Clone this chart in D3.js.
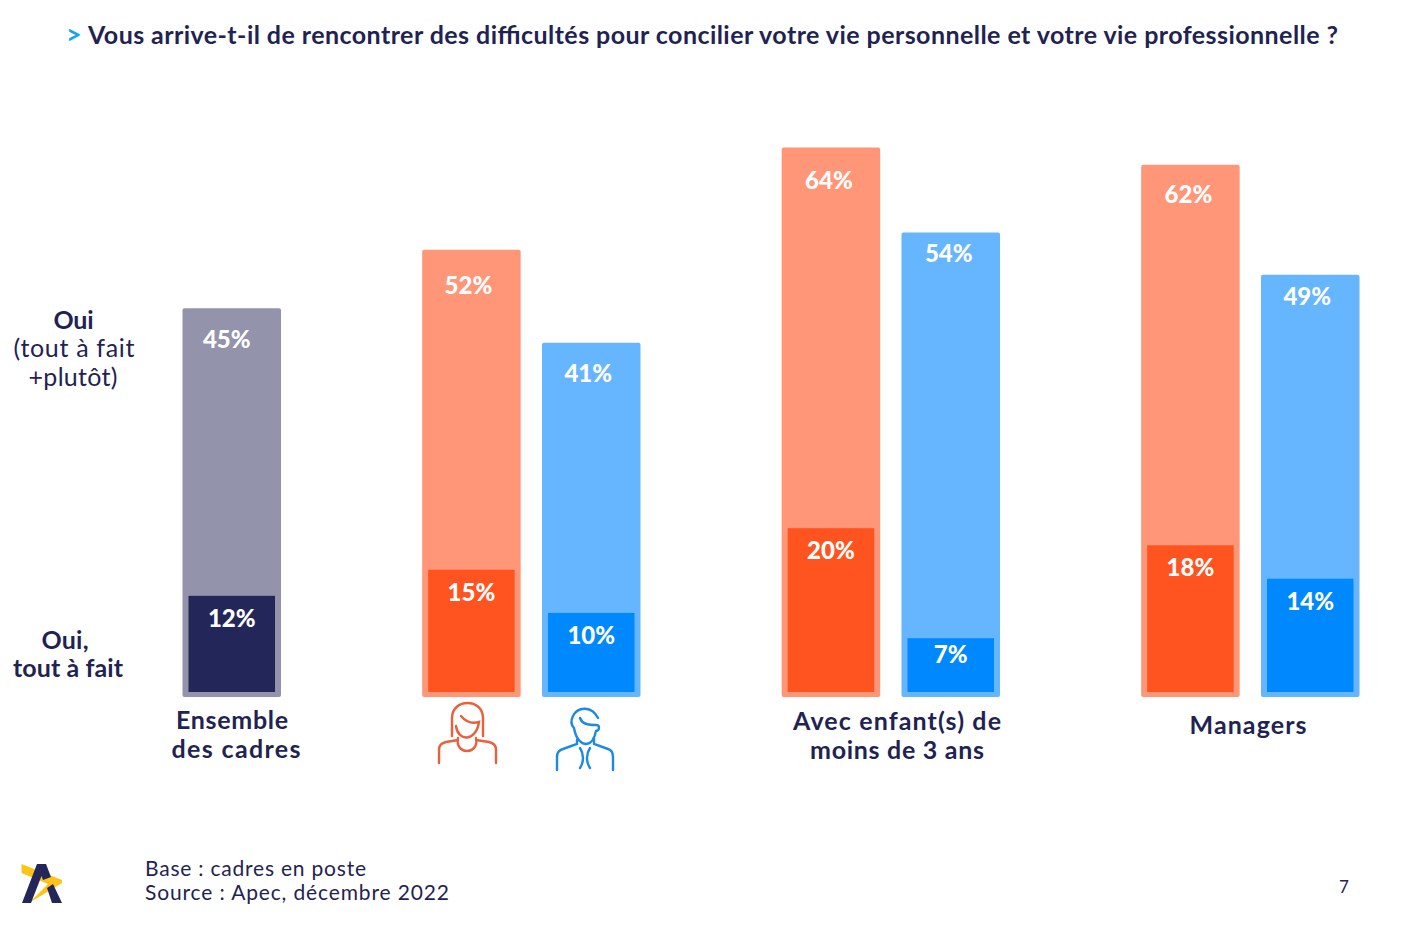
<!DOCTYPE html>
<html lang="fr">
<head>
<meta charset="utf-8">
<script src="https://cdn.jsdelivr.net/npm/d3@7"></script>
<style>
    html, body { margin: 0; padding: 0; background: #fff; }
    svg { display: block; }
    text { font-family: "Lato", "Open Sans", sans-serif; fill: #1f2354; }
</style>
</head>
<body>
<div id="chart"></div>
<script>
// spacer slots keep the gaps between the groups
const slots = ["Ensemble", "gap1", "Femmes", "Hommes", "gap2", "Enfants F", "Enfants H", "gap3", "Managers F", "Managers H"];
const barNames = ["Ensemble", "Femmes", "Hommes", "Enfants F", "Enfants H", "Managers F", "Managers H"];
// bar heights, the labels round them
const ouiTotal = [45.2, 52, 41.2, 63.9, 54, 61.9, 49.1];
const ouiToutAFait = [11.8, 15, 9.7, 20.1, 6.6, 18, 13.9];
const barKinds = ["all", "f", "h", "f", "h", "f", "h"];

const width = 1419;
const height = 925;

const lightColor = {all: "#9393ab", f: "#ff9678", h: "#66b5ff"};
const darkColor = {all: "#232659", f: "#ff541f", h: "#0088ff"};

const svg = d3.select("#chart").append("svg").attr("width", width).attr("height", height);

const x = d3.scaleBand().domain(slots).range([182.5, 1359.5]).paddingInner(0.178).paddingOuter(0).align(0);
const yOuter = d3.scaleLinear().domain([0, 64]).range([697, 146.6]);
const yInner = d3.scaleLinear().domain([0, 20]).range([692, 529]);
const inset = 6;
const pct = d3.format(".0f");

// the labels do not sit at a constant distance from the bar tops in the original
const totalLabelDy = [40, 44, 39, 42, 29, 38, 30];
const totalLabelDx = [-5, -3, -3, -2, -2, -2, -3];
const partLabelDy = [31, 31, 31, 31, 25, 31, 31];

const bars = barNames.map((name, i) => ({
    name: name, total: ouiTotal[i], part: ouiToutAFait[i], kind: barKinds[i],
    totalDy: totalLabelDy[i], totalDx: totalLabelDx[i], partDy: partLabelDy[i]
}));

const g = svg.selectAll(".bar").data(bars).enter().append("g").attr("class", "bar");

g.append("rect")
    .attr("x", d => x(d.name))
    .attr("y", d => yOuter(d.total))
    .attr("width", x.bandwidth())
    .attr("height", d => yOuter(0) - yOuter(d.total))
    .attr("rx", 2)
    .attr("fill", d => lightColor[d.kind]);

g.append("rect")
    .attr("x", d => x(d.name) + inset)
    .attr("y", d => yInner(d.part))
    .attr("width", x.bandwidth() - 2 * inset)
    .attr("height", d => yInner(0) - yInner(d.part))
    .attr("fill", d => darkColor[d.kind]);

g.append("text")
    .attr("x", d => x(d.name) + x.bandwidth() / 2 + d.totalDx)
    .attr("y", d => yOuter(d.total) + d.totalDy)
    .attr("text-anchor", "middle")
    .attr("font-size", 24)
    .attr("font-weight", 900)
    .style("fill", "#fff")
    .text(d => pct(d.total) + "%");

g.append("text")
    .attr("x", d => x(d.name) + x.bandwidth() / 2)
    .attr("y", d => yInner(d.part) + d.partDy)
    .attr("text-anchor", "middle")
    .attr("font-size", 24)
    .attr("font-weight", 900)
    .style("fill", "#fff")
    .text(d => pct(d.part) + "%");

function label(x, y, str, size, weight, anchor, len) {
    let t = svg.append("text")
        .attr("x", x).attr("y", y)
        .attr("font-size", size)
        .attr("font-weight", weight)
        .attr("text-anchor", anchor)
        .text(str);
    if (len) {
        t.attr("textLength", len).attr("lengthAdjust", "spacing");
    }
    return t;
}

// title
label(66, 44, ">", 27, 700, "start").style("fill", "#12a5e8");
label(88, 44, "Vous arrive-t-il de rencontrer des difficultés pour concilier votre vie personnelle et votre vie professionnelle ?", 25, 700, "start", 1250);

// row labels on the left
label(73.5, 329, "Oui", 25, 700, "middle", 40);
label(74, 357, "(tout à fait", 25, 400, "middle", 121);
label(73, 386, "+plutôt)", 25, 400, "middle", 89);
label(65, 649, "Oui,", 25, 700, "middle", 47);
label(68, 677, "tout à fait", 25, 700, "middle", 110);

// group labels
label(232, 729, "Ensemble", 25, 700, "middle", 112);
label(236, 758, "des cadres", 25, 700, "middle", 129);
label(897, 730, "Avec enfant(s) de", 25, 700, "middle", 208);
label(897, 759, "moins de 3 ans", 25, 700, "middle", 174);
label(1248, 734, "Managers", 25, 700, "middle", 117);

// footer
label(145, 876, "Base : cadres en poste", 21, 400, "start", 221);
label(145, 900, "Source : Apec, décembre 2022", 21, 400, "start", 304);
label(1344, 893, "7", 17, 400, "middle");

// woman icon
svg.append("g")
    .attr("transform", "translate(420,690)")
    .attr("fill", "none")
    .attr("stroke", "#e8603c")
    .attr("stroke-width", 2.4)
    .attr("stroke-linecap", "round")
    .selectAll("path")
    .data([
        "M32,46 V28 C32,8 63,8 63,28 V46",
        "M36,36 C38,52 56,52 59,32 C52,34 46,32 41,26",
        "M38,48 C36,57 42,61 47,61 C52,61 58,57 56,48",
        "M38,50 L26,52 C21,53 19,56 19,60 V73",
        "M56,50 L69,52 C74,53 76,56 76,60 V73"
    ])
    .enter().append("path").attr("d", d => d);

// man icon
svg.append("g")
    .attr("transform", "translate(420,690)")
    .attr("fill", "none")
    .attr("stroke", "#1e88e5")
    .attr("stroke-width", 2.4)
    .attr("stroke-linecap", "round")
    .selectAll("path")
    .data([
        "M178,28 C172,16 158,16 153,26 C150,32 152,36 154,38 C156,50 162,54 166,54 C172,54 175,46 176,41 C180,40 180,35 176,35 C168,35 162,34 160,28",
        "M157,50 V54 L143,59 C139,60 137,63 137,67 V80",
        "M174,48 V54 L188,59 C192,60 193,63 193,67 V80",
        "M160,58 C164,64 164,72 160,78",
        "M170,58 C166,64 166,72 170,78"
    ])
    .enter().append("path").attr("d", d => d);

// logo
const logo = svg.append("g").attr("transform", "translate(0,850)");
logo.append("path").attr("d", "M21.5,14 L62,30 L62,33 L29,53 L48,34 L21.5,23 Z").attr("fill", "#fdc316");
logo.append("path").attr("d", "M22,53 L37,14 H46 L51,27 L43,30 L41.5,26 L31,53 Z").attr("fill", "#232659");
logo.append("path").attr("d", "M47,38 L53,34 L62,53 H52 Z").attr("fill", "#232659");
</script>
</body>
</html>
